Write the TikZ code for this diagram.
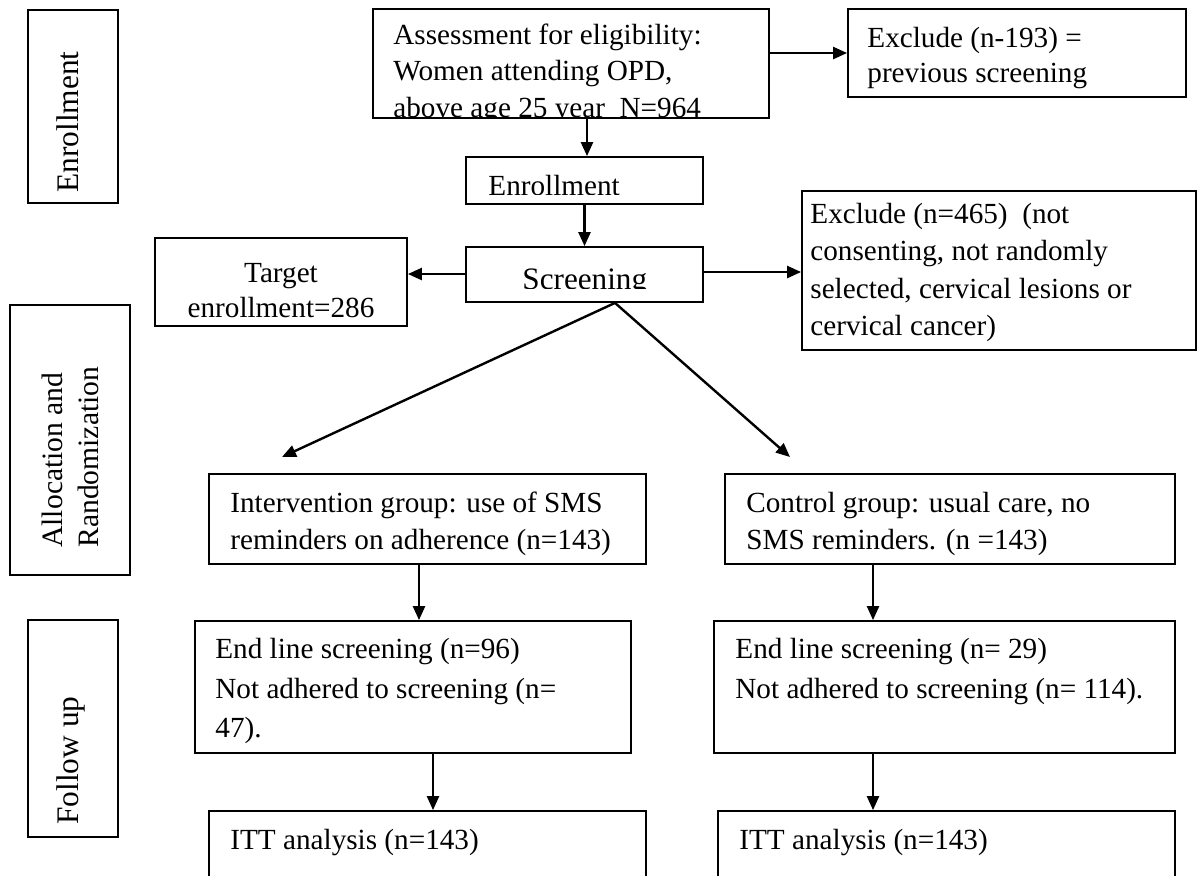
\documentclass[tikz,border=0pt]{standalone}
\usepackage{fontspec}
\setmainfont{Liberation Serif}
\usetikzlibrary{arrows.meta,fit}
\begin{document}
\begin{tikzpicture}[x=0.5pt,y=-0.5pt,
  box/.style={draw, line width=0.9pt, inner sep=0pt},
  txt/.style={inner sep=0pt, anchor=base west, font=\fontsize{14.6}{17}\selectfont},
  side/.style={txt, rotate=90, font=\fontsize{15.7}{18}\selectfont},
  arr/.style={line width=1.2pt, -{Triangle[length=7pt,width=6pt]}}]
\useasboundingbox[fill=white] (0,0) rectangle (1197,875);
% phase boxes
\node[box, fit={(28,10)(118,203)}] (penr) {};
\node[box, fit={(10,305)(130,575)}] (palloc) {};
\node[box, fit={(28,620)(118,837)}] (pfol) {};
% flow boxes
\node[box, fit={(373,9)(769,118)}] (assess) {};
\node[box, fit={(848,9)(1186,97)}] (excl1) {};
\node[box, fit={(466,157)(703,204)}] (enrol) {};
\node[box, fit={(466,247)(703,302)}] (screen) {};
\node[box, fit={(155,238)(407,326)}] (target) {};
\node[box, fit={(802,191)(1196,350)}] (excl2) {};
\node[box, fit={(209,474)(646,564)}] (interv) {};
\node[box, fit={(725,474)(1175,564)}] (control) {};
\node[box, fit={(195,621)(631,753)}] (endI) {};
\node[box, fit={(714,621)(1175,753)}] (endC) {};
\node[box, fit={(209,811)(646,900)}] (ittI) {};
\node[box, fit={(718,811)(1175,900)}] (ittC) {};
% phase labels
\node[side] (tenr) at (78,193) {Enrollment};
\node[side, font=\fontsize{14.8}{17}\selectfont] (tal1) at (62,548) {Allocation and};
\node[side, font=\fontsize{14.8}{17}\selectfont] (tal2) at (98,548) {Randomization};
\node[side] (tfol) at (78,825) {Follow up};
% texts
\node[txt] (ta1) at (393,44) {Assessment for eligibility:};
\node[txt] (ta2) at (393,80.5) {Women attending OPD,};
\begin{scope}
\clip (373,0) rectangle (769,118);
\node[txt] (ta3) at (393,117) {above age 25 year\ \ N=964};
\end{scope}
\node[txt] (te1) at (867,47) {Exclude (n-193) =};
\node[txt] (te2) at (867,82) {previous screening};
\begin{scope}
\clip (466,150) rectangle (703,194);
\node[txt] (ten) at (488,195) {Enrollment};
\end{scope}
\begin{scope}
\clip (466,240) rectangle (703,288);
\node[txt, font=\fontsize{15.6}{18}\selectfont] (tsc) at (522,289) {Screening};
\end{scope}
\node[txt, anchor=base] (tt1) at (281,282) {Target};
\node[txt, anchor=base] (tt2) at (281,317) {enrollment=286};
\node[txt] (tx1) at (810,223) {Exclude (n=465)\ \ (not};
\node[txt] (tx2) at (810,260) {consenting, not randomly};
\node[txt] (tx3) at (810,298) {selected, cervical lesions or};
\node[txt] (tx4) at (810,335) {cervical cancer)};
\node[txt] (ti1) at (230,512) {Intervention group: use of SMS};
\node[txt] (ti2) at (230,549) {reminders on adherence (n=143)};
\node[txt] (tc1) at (746,512) {Control group: usual care, no};
\node[txt] (tc2) at (746,549) {SMS reminders. (n =143)};
\node[txt] (tei1) at (215,658) {End line screening (n=96)};
\node[txt] (tei2) at (215,698) {Not adhered to screening (n=};
\node[txt] (tei3) at (215,737) {47).};
\node[txt] (tec1) at (735,658) {End line screening (n= 29)};
\node[txt] (tec2) at (735,698) {Not adhered to screening (n= 114).};
\node[txt] (tit1) at (230,849) {ITT analysis (n=143)};
\node[txt] (tit2) at (739,849) {ITT analysis (n=143)};
% helper coordinates
\coordinate (c1) at (587,0);
\coordinate (c2) at (0,274);
\coordinate (c3) at (0,272);
\coordinate (c4) at (419,0);
\coordinate (c5) at (433,0);
\coordinate (c6) at (873,0);
\coordinate (apex) at (615,302);
\coordinate (tipL) at (282,457);
\coordinate (tipR) at (790,457);
% connectors
\draw[arr] (assess.east |- excl1.west) -- (excl1.west);
\draw[arr] (assess.south -| c1) -- (enrol.north -| c1);
\draw[arr] (enrol.south) -- (screen.north);
\draw[arr] (screen.west |- c2) -- (target.east |- c2);
\draw[arr] (screen.east |- c3) -- (excl2.west |- c3);
\draw[arr] (screen.south -| apex) -- (tipL);
\draw[arr] (screen.south -| apex) -- (tipR);
\draw[arr] (interv.south -| c4) -- (endI.north -| c4);
\draw[arr] (endI.south -| c5) -- (ittI.north -| c5);
\draw[arr] (control.south -| c6) -- (endC.north -| c6);
\draw[arr] (endC.south -| c6) -- (ittC.north -| c6);
\end{tikzpicture}
\end{document}
